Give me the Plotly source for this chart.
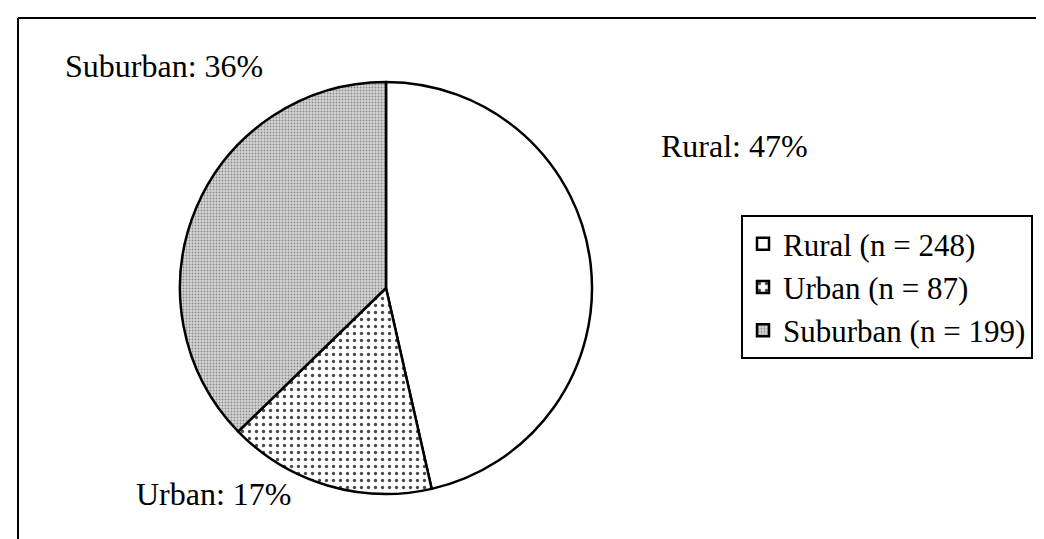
import plotly.graph_objects as go

# ---- data ----
categories = ["Rural", "Urban", "Suburban"]
counts = [248, 87, 199]
percent_labels = [47, 17, 36]

# ---- styling ----
FONT = "Liberation Serif, Times New Roman, serif"
W, H = 1044, 539

legend_labels = [f"{c} (n = {n})" for c, n in zip(categories, counts)]

fig = go.Figure()
cx, cy, r = 378, 280, 206
fig.add_trace(go.Pie(
    labels=legend_labels,
    values=counts,
    sort=False,
    direction="clockwise",
    rotation=0,
    textinfo="none",
    textposition="none",
    hoverinfo="label+percent",
    domain=dict(x=[(cx - r) / W, (cx + r) / W],
                y=[(H - cy - r) / H, (H - cy + r) / H]),
    marker=dict(
        colors=["#ffffff", "#ffffff", "#cfcfcf"],
        line=dict(color="black", width=2.5),
        pattern=dict(
            shape=["", ".", "."],
            bgcolor=["#ffffff", "#ffffff", "#d6d6d6"],
            fgcolor=["#000000", "#4a4a4a", "#8a8a8a"],
            size=[8, 7, 3],
            solidity=[0.2, 0.18, 0.3],
        ),
    ),
))

# outside labels
label_pos = {
    "Rural": (651, 138),
    "Urban": (126, 486),
    "Suburban": (55, 58),
}
for cat, pct in zip(categories, percent_labels):
    px, py = label_pos[cat]
    fig.add_annotation(
        x=px / W, y=1 - py / H, xref="paper", yref="paper",
        xanchor="left", yanchor="middle",
        text=f"{cat}: {pct}%", showarrow=False,
        font=dict(family=FONT, size=32, color="black"),
    )

# partial frame (top and left edges)
fig.add_shape(type="line", xref="paper", yref="paper",
              x0=10 / W, x1=1.0, y0=1 - 10 / H, y1=1 - 10 / H,
              line=dict(color="black", width=2))
fig.add_shape(type="line", xref="paper", yref="paper",
              x0=10 / W, x1=10 / W, y0=0, y1=1 - 10 / H,
              line=dict(color="black", width=2))

fig.update_layout(
    width=W, height=H,
    margin=dict(l=0, r=0, t=0, b=0),
    paper_bgcolor="white",
    plot_bgcolor="white",
    showlegend=True,
    legend=dict(
        x=733 / W, y=1 - 207 / H, xanchor="left", yanchor="top",
        bordercolor="black", borderwidth=2, bgcolor="white",
        font=dict(family=FONT, size=31, color="black"),
        itemwidth=30,
        traceorder="normal",
    ),
    font=dict(family=FONT, color="black"),
)

fig.write_html("out.html")
